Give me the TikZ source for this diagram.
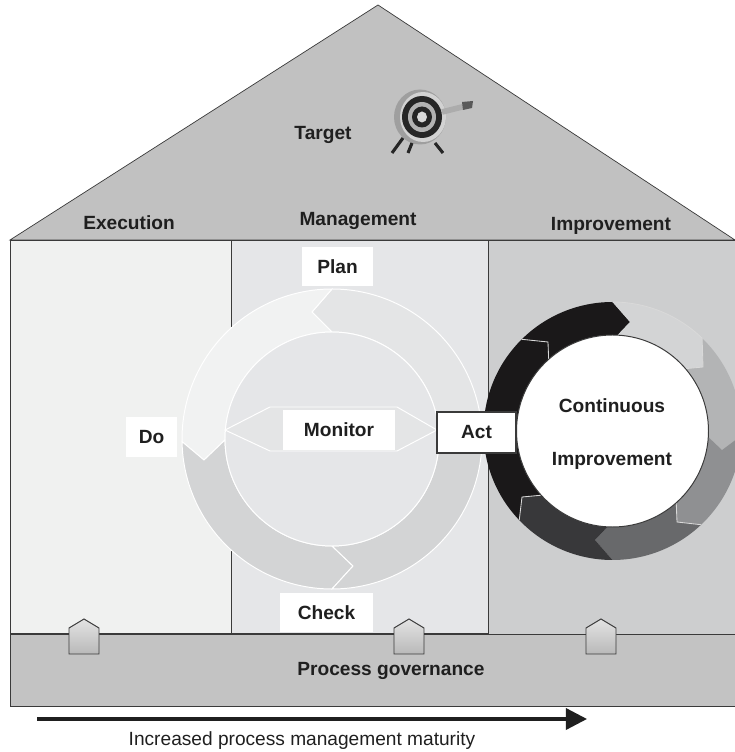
\documentclass[tikz,border=0pt]{standalone}
\usepackage{fontspec}
\setmainfont{Liberation Sans}
\usetikzlibrary{arrows.meta,calc}

\definecolor{roofgray}{HTML}{C1C1C1}
\definecolor{execgray}{HTML}{F0F1F0}
\definecolor{mgmtgray}{HTML}{E5E6E8}
\definecolor{imprgray}{HTML}{CDCECF}
\definecolor{govgray}{HTML}{C3C3C3}
\definecolor{inkgray}{HTML}{1F1F1F}
\definecolor{lineblack}{HTML}{3A3A3A}
\definecolor{segplan}{HTML}{E4E5E6}
\definecolor{segdo}{HTML}{F1F2F2}
\definecolor{segcheck}{HTML}{D3D4D5}
\definecolor{segblack}{HTML}{1A1819}
\definecolor{segpale}{HTML}{D3D4D5}
\definecolor{segmid}{HTML}{B3B4B5}
\definecolor{segsteel}{HTML}{8F9092}
\definecolor{segslate}{HTML}{68696B}
\definecolor{segcoal}{HTML}{38383A}

\tikzset{
  lbl/.style={font=\fontsize{13.6}{16}\selectfont\bfseries, text=inkgray},
  whitebox/.style={lbl, fill=white, inner sep=0pt},
  gatehouse/.style={draw=lineblack, line width=0.7pt, top color=gray!22, bottom color=gray!55}
}

\begin{document}
\begin{tikzpicture}[x=0.025cm, y=0.025cm]

\useasboundingbox (0,0) rectangle (735,752);
\clip (0,0) rectangle (735,752);

% Sizes
\def\planR{150}
\def\planr{107}
\def\imprR{129}
\def\imprr{96}

% House
\draw[draw=lineblack, fill=roofgray, line width=0.5pt] (10,512) -- (378,747) -- (735,512) -- cycle;
\draw[draw=lineblack, fill=execgray, line width=0.7pt] (10,118) rectangle (231,512);
\draw[draw=lineblack, fill=mgmtgray, line width=0.7pt] (231,118) rectangle (488,512);
\draw[draw=lineblack, fill=imprgray, line width=0.7pt] (488,118) rectangle (735,512);
\draw[draw=lineblack, fill=govgray, line width=0.7pt] (10,46) rectangle (735,118);
\draw[draw=lineblack, line width=1.8pt] (10,118) -- (488,118);

% Target
\fill[gray!75] (420,635) ellipse (26 and 27.5);
\fill[gray!35] (423,635) ellipse (23 and 25);
\fill[black!85] (422,635) ellipse (20 and 21);
\fill[gray!60] (422,635) ellipse (14 and 15);
\fill[black!85] (422,635) ellipse (10 and 10.5);
\fill[gray!30] (422,635) ellipse (5 and 5.5);
\draw[black!85, line width=2.2pt] (403,614) -- (392,599);
\draw[black!85, line width=2.2pt] (412,609) -- (408,599);
\draw[black!85, line width=2.2pt] (435,609) -- (443,599);
\draw[gray!65, line width=4pt] (442,640) -- (470,647);
\fill[black!65] (462,650) -- (473,651) -- (472,644) -- (463,642) -- cycle;

% Plan-do-check ring
\coordinate (planc) at (332,313);
\foreach \col/\oa/\ia/\tx/\ty/\ob/\ux/\uy/\ib in {
segplan/0/0/437/313/90/312/440/90,
segdo/90/90/312/440/181/204/292/180.5,
segcheck/181/180.5/204/292/270/353/186/270,
segcheck/270/270/353/186/360/437/313/360
} {
  \draw[draw=white, fill=\col, line width=0.7pt]
    ($(planc)+(\oa:\planR)$) arc[start angle=\oa, end angle=\ob, radius=\planR]
    -- (\ux,\uy) -- ($(planc)+(\ib:\planr)$)
    arc[start angle=\ib, end angle=\ia, radius=\planr] -- (\tx,\ty) -- cycle;
}
\draw[draw=white, fill=mgmtgray, line width=0.7pt] (planc) circle (\planr);

% Monitor arrow
\draw[draw=white, fill=segplan, line width=0.7pt] (225,322) -- (270,345) -- (397,345)
  -- (437,322) -- (397,301) -- (270,301) -- cycle;

% Continuous improvement ring
\coordinate (imprc) at (612.5,321);
\foreach \col/\oa/\ia/\tx/\ty/\ob/\ux/\uy/\ib in {
segblack/134.7/131.7/548/410/90/630/430/87,
segpale/90/87/630/430/46/703/385/40.5,
segmid/46/40.5/703/385/-2/722/302/-3.6,
segsteel/-2/-3.6/722/302/-46.6/677/230/-48.4,
segslate/-46.6/-48.4/677/230/-90/595/212/-93,
segcoal/-90/-93/595/212/-136.3/522/255/-138,
segblack/-136.3/-138/522/255/-225.3/548/410/-228.3
} {
  \fill[\col]
    ($(imprc)+(\oa:\imprR)$) arc[start angle=\oa, end angle=\ob, radius=\imprR]
    -- (\ux,\uy) -- ($(imprc)+(\ib:\imprr)$)
    arc[start angle=\ib, end angle=\ia, radius=\imprr] -- (\tx,\ty) -- cycle;
}

% Light edges of the ring
\foreach \oa/\ux/\uy/\ib in {134.7/548/410/131.7, 46/703/385/40.5, -46.6/677/230/-48.4, -136.3/522/255/-138} {
  \draw[white!85!black, line width=0.6pt] ($(imprc)+(\oa:\imprR)$) -- (\ux,\uy) -- ($(imprc)+(\ib:\imprr)$);
}
\draw[white!85!black, line width=0.6pt] ($(imprc)+(90:\imprR)$) arc[start angle=90, end angle=46, radius=\imprR];
\draw[draw=lineblack, fill=white, line width=0.7pt] (imprc) circle (\imprr);

% Small houses
\foreach \x in {84, 409, 601} {
  \draw[gatehouse] (\x-15,98) -- (\x-15,124) -- (\x,133) -- (\x+15,124) -- (\x+15,98) -- cycle;
}

% Labels
\node[lbl] (target) at (323,617) {Target};
\node[lbl] (execution) at (129,529) {Execution};
\node[lbl] (management) at (358,531) {Management};
\node[lbl] (improvement) at (611,526) {Improvement};
\node[lbl] (continuous) at (612,346) {Continuous};
\node[lbl] (improving) at (612,291) {Improvement};
\node[lbl] (governance) at (391,81) {Process governance};

% Boxes
\node[whitebox, minimum width=1.775cm, minimum height=0.975cm] (plan) at (337.5,485.5) {Plan};
\node[whitebox, minimum width=1.275cm, minimum height=1cm] (do) at (151.5,315) {Do};
\node[whitebox, minimum width=2.325cm, minimum height=0.975cm] (check) at (326.5,139.5) {Check};
\node[whitebox, minimum width=2.8cm, minimum height=1cm] (monitor) at (339,322) {Monitor};
\node[whitebox, draw=lineblack, line width=0.8pt, minimum width=1.975cm, minimum height=1.025cm] (act) at (476.5,319.5) {Act};

% Maturity arrow
\coordinate (maturitystart) at (37,33);
\coordinate (maturityend) at (587,33);
\draw[-{Triangle[length=15pt, width=15pt]}, draw=inkgray, line width=2.4pt] (maturitystart) -- (maturityend);
\node[font=\fontsize{13.6}{16}\selectfont, text=inkgray] (maturity) at (302,11) {Increased process management maturity};

\end{tikzpicture}
\end{document}
